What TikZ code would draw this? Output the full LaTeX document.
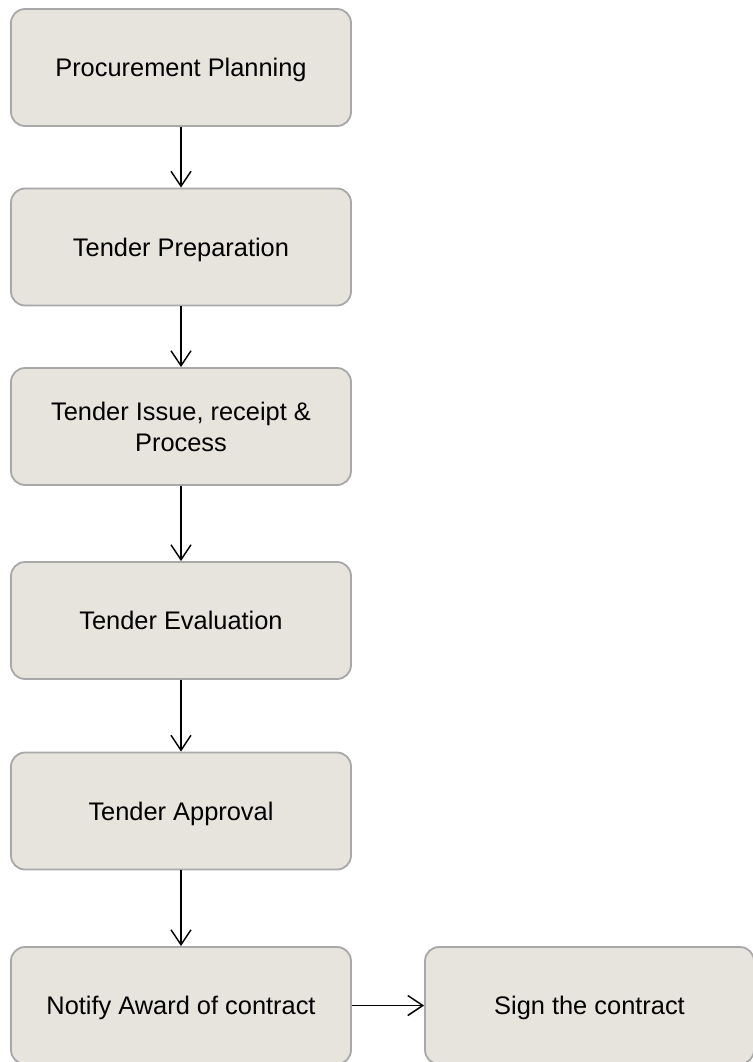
\documentclass[tikz,border=0pt]{standalone}
\usepackage{fontspec}
\setmainfont{Liberation Sans}
\usetikzlibrary{arrows.meta}
\definecolor{boxfill}{HTML}{E7E4DE}
\definecolor{boxline}{HTML}{A8A8A8}
\begin{document}
\begin{tikzpicture}[x=1pt,y=-1pt,
  stage/.style={draw=boxline, fill=boxfill, line width=1.8pt, rounded corners=14pt,
    minimum width=340pt, minimum height=117pt, align=center, inner sep=0pt,
    text depth=0pt,
    font=\fontsize{25.4pt}{31pt}\selectfont, text=black},
  flow/.style={draw=black, line width=1.5pt, -{Straight Barb[length=15pt,width=20pt,line width=1.5pt]}}]
\useasboundingbox (0,0) rectangle (752,1062);
\node[stage] (plan)  at (181,67.5)  {Procurement Planning};
\node[stage] (prep)  at (181,247)   {Tender Preparation};
\node[stage] (issue) at (181,426.5) {Tender Issue, receipt \&\\Process};
\node[stage] (eval)  at (181,620.5) {Tender Evaluation};
\node[stage] (appr)  at (181,811)   {Tender Approval};
\node[stage] (award) at (181,1005.5){Notify Award of contract};
\node[stage, minimum width=329pt] (sign) at (589.5,1005.5) {Sign the contract};
\draw[flow] (plan) -- (prep);
\draw[flow] (prep) -- (issue);
\draw[flow] (issue) -- (eval);
\draw[flow] (eval) -- (appr);
\draw[flow] (appr) -- (award);
\draw[flow] (award) -- (sign);
\end{tikzpicture}
\end{document}
